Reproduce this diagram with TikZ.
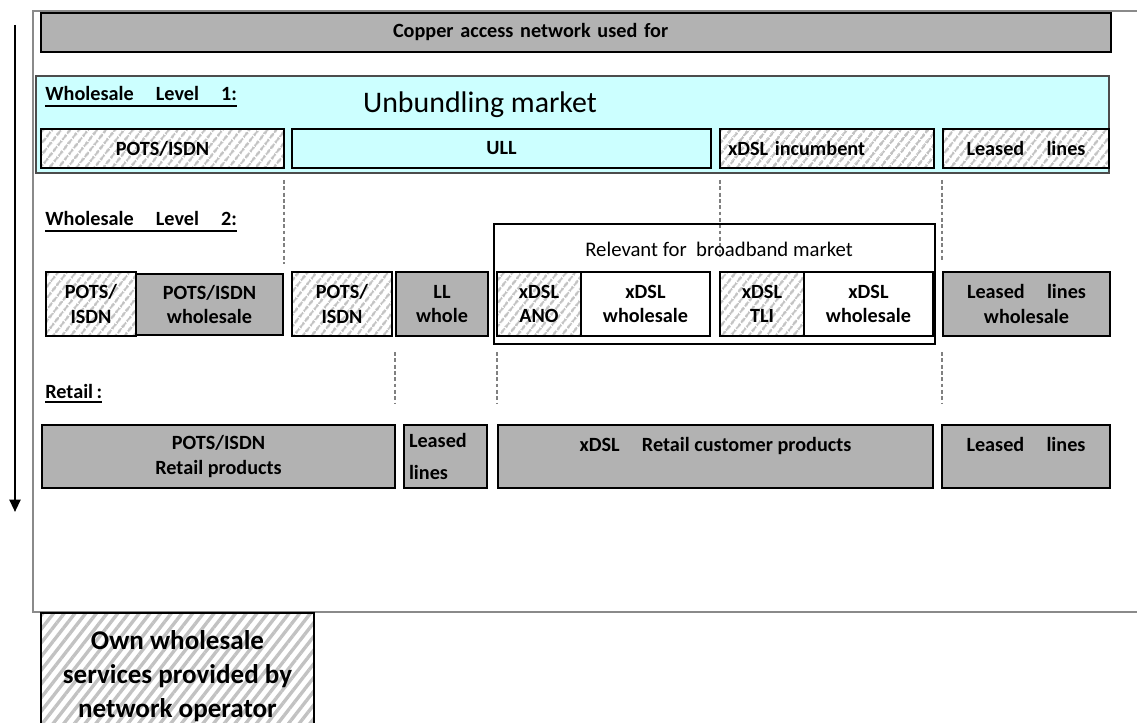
\documentclass[tikz,border=0pt]{standalone}
\usepackage{fontspec}
\setmainfont{Carlito}
\usetikzlibrary{patterns.meta,arrows.meta}

\definecolor{boxgray}{HTML}{B2B2B2}
\definecolor{bandcyan}{HTML}{CCFFFF}
\definecolor{hatchgray}{HTML}{C2C2C2}
\definecolor{framegray}{HTML}{8A8A8A}

% wide word spacing used in the labels
\newcommand{\wgap}{\hspace{1.1em}}

\tikzset{
  % a box given by its corners (x1,y1) and (x2,y2)
  span/.style n args={4}{minimum width={(#3-#1)*0.02cm}, minimum height={(#4-#2)*0.02cm},
    at={({(#1+#3)/2},{(#2+#4)/2})}},
  cell/.style={draw=black, line width=1.6pt, inner sep=0pt, align=center,
    font=\bfseries\fontsize{11.5}{13.7}\selectfont},
  graycell/.style={cell, fill=boxgray},
  whitecell/.style={cell, fill=white},
  cyancell/.style={cell, fill=bandcyan},
  hatchcell/.style={cell, preaction={fill=white},
    pattern={Lines[angle=52,distance=4pt,line width=1.5pt]}, pattern color=hatchgray},
  level/.style={inner sep=0pt, anchor=base west, font=\bfseries\fontsize{11.5}{13.7}\selectfont},
  uline/.style={line width=1.1pt},
  sepline/.style={draw=gray, line width=0.6pt, dash pattern=on 2.2pt off 1.4pt},
}

\begin{document}
\begin{tikzpicture}[x=0.02cm, y=-0.02cm]
  \useasboundingbox (0,0) rectangle (1137,723);
  \clip (0,0) rectangle (1137,723);

  % frame and time arrow
  \draw[framegray, line width=0.7pt] (1150,11) -| (33,612) -- (1150,612);
  \coordinate (flowtop) at (15,25);
  \coordinate (flowend) at (15,512);
  \draw[line width=1.3pt, -{Triangle[width=6.2pt,length=7pt]}] (flowtop) -- (flowend);

  % copper network
  \node[graycell, span={41}{13}{1111}{52}, text width=7.32cm, align=left] (copper) {Copper access network used for};

  % wholesale level 1
  \node[draw=black!70, line width=0.8pt, fill=bandcyan, inner sep=0pt, span={36}{76}{1109}{173}] (band) {};
  \node[level] (wl1) at (45,101) {Wholesale\wgap Level\wgap 1:};
  \draw[uline] ([yshift=-0.1cm]wl1.base west) -- ([yshift=-0.1cm]wl1.base east);
  \node[inner sep=0pt, anchor=base, font=\fontsize{17}{20}\selectfont] (unb) at (480,113) {Unbundling market};

  \node[hatchcell, span={41}{129}{284}{168}] (potsA) {POTS/ISDN};
  \node[cyancell, span={292}{129}{711}{168}] (ull) {ULL};
  \node[hatchcell, span={720}{129}{934}{168}, text width=3.96cm, align=left] (xdslinc) {xDSL incumbent};
  \node[hatchcell, span={943}{129}{1109}{168}] (llA) {Leased\wgap lines};

  % separators
  \draw[sepline] (284,180) -- (284,264);
  \draw[sepline] (720,180) -- (720,256);
  \draw[sepline] (942,180) -- (942,262);
  \draw[sepline] (395,352) -- (395,403);
  \draw[sepline] (497,352) -- (497,403);
  \draw[sepline] (942,352) -- (942,403);

  % wholesale level 2
  \node[level] (wl2) at (45,226) {Wholesale\wgap Level\wgap 2:};
  \draw[uline] ([yshift=-0.1cm]wl2.base west) -- ([yshift=-0.1cm]wl2.base east);

  \node[draw=black, line width=0.7pt, inner sep=0pt, span={494}{224}{935}{344}] (bbmarket) {};
  \node[inner sep=0pt, anchor=base, font=\fontsize{11.8}{14}\selectfont] (bbtext) at (719,256) {Relevant for\ \ broadband\ market};

  \node[graycell, span={136}{274}{283}{335}] (potswh) {POTS/ISDN\\wholesale};
  \node[hatchcell, span={46}{272}{136}{336}] (potsB) {POTS/\\ISDN};
  \node[hatchcell, span={292}{272}{392}{336}] (potsC) {POTS/\\ISDN};
  \node[graycell, span={396}{272}{488}{336}] (llwh) {LL\\whole};
  \node[whitecell, span={581}{272}{710}{336}] (xwhA) {xDSL\\wholesale};
  \node[hatchcell, span={497}{272}{581}{336}] (ano) {xDSL\\ANO};
  \node[whitecell, span={804}{272}{933}{336}] (xwhB) {xDSL\\wholesale};
  \node[hatchcell, span={720}{272}{804}{336}] (tli) {xDSL\\TLI};
  \node[graycell, span={943}{272}{1110}{336}] (llwhB) {Leased\wgap lines\\wholesale};

  % retail
  \node[level] (ret) at (45,398) {Retail\,:};
  \draw[uline] ([yshift=-0.08cm]ret.base west) -- ([yshift=-0.08cm]ret.base east);

  \node[graycell, span={42}{425}{395}{488}] (potsret) {POTS/ISDN\\Retail products};
  \node[graycell, span={404}{425}{487}{488}, text width=1.46cm, align=left] (llret) {Leased\\[4pt]lines};
  \node[graycell, span={498}{425}{933}{488}] (xdslret) {xDSL\wgap Retail customer products\\\mbox{}};
  \node[graycell, span={942}{425}{1110}{488}] (llretB) {Leased\wgap lines\\\mbox{}};

  % legend
  \node[hatchcell, span={41}{613}{314}{740}, font=\bfseries\fontsize{15.4}{19.3}\selectfont,
    pattern={Lines[angle=52,distance=4.8pt,line width=1.9pt]}] (legend)
    {Own wholesale\\services provided by\\network operator};
\end{tikzpicture}
\end{document}
